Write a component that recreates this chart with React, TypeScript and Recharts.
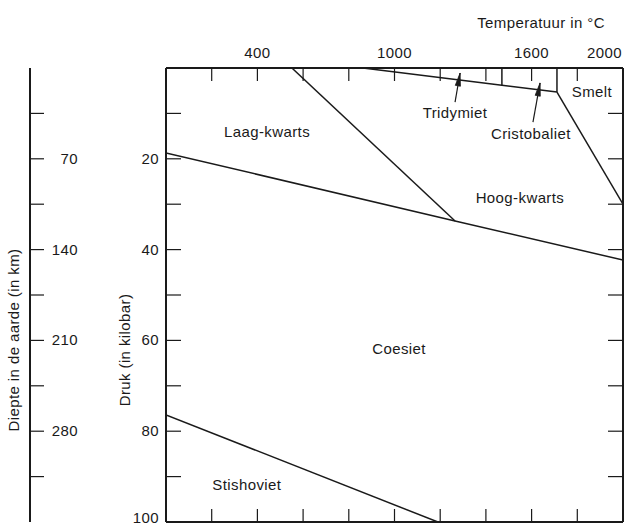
import React from 'react';
import { ComposedChart, Line, XAxis, YAxis, ReferenceDot } from 'recharts';

// temperatuur (°C) en druk (kbar) as
const temperatureTicks = [0, 200, 400, 600, 800, 1000, 1200, 1400, 1600, 1800, 2000];
const temperatureLabels = [400, 1000, 1600, 2000];
const pressureTicks = [0, 10, 20, 30, 40, 50, 60, 70, 80, 90, 100];
const pressureLabels = [20, 40, 60, 80, 100];
const depthTicks = [35, 70, 105, 140, 175, 210, 245, 280, 315];
const depthLabels = [70, 140, 210, 280];

// fasegrenzen
const laagHoogKwarts = [{ t: 551, p: 0 }, { t: 1265, p: 33.7 }];
const kwartsCoesiet = [{ t: 0, p: 18.7 }, { t: 1265, p: 33.7 }, { t: 2000, p: 42.3 }];
const hoogKwartsSmelt = [{ t: 1711, p: 5.3 }, { t: 2000, p: 30 }];
const tridymietGrens = [{ t: 862, p: 0 }, { t: 1470, p: 3.8 }, { t: 1711, p: 5.3 }];
const cristobalietSmelt = [{ t: 1711, p: 0 }, { t: 1711, p: 5.3 }];
const tridymietCristobaliet = [{ t: 1470, p: 0 }, { t: 1470, p: 3.8 }];
const coesietStishoviet = [{ t: 0, p: 76.4 }, { t: 1190, p: 100 }];

// pijlen naar de smalle velden
const tridymietPijl = [{ t: 1265, p: 7.5 }, { t: 1287, p: 1.1 }];
const cristobalietPijl = [{ t: 1606, p: 11.9 }, { t: 1637, p: 3.3 }];

const fasen = [
  { naam: 'Laag-kwarts', t: 442, p: 14.1 },
  { naam: 'Tridymiet', t: 1265, p: 9.9 },
  { naam: 'Cristobaliet', t: 1597, p: 14.5 },
  { naam: 'Smelt', t: 1864, p: 5.3 },
  { naam: 'Hoog-kwarts', t: 1549, p: 28.6 },
  { naam: 'Coesiet', t: 1020, p: 61.9 },
  { naam: 'Stishoviet', t: 354, p: 91.9 },
];

const FONT = '"Liberation Sans", Arial, Helvetica, sans-serif';
const INK = '#1a1a1a';

const textStyle = { fontFamily: FONT, fontSize: 15, letterSpacing: 0.4, fill: INK };

// y-as ids: 0 = druk (naast plot), 1 = diepte (buitenste), 2 = druk rechts
const DRUK = 0;
const DIEPTE = 1;
const RECHTS = 2;

const TopTick = (props: any) => {
  const { x, y, payload } = props;
  const v = payload.value;
  const show = temperatureLabels.includes(v);
  const atEdge = v === 2000;
  return (
    <g>
      <line x1={x} y1={y} x2={x} y2={y + 13} stroke={INK} strokeWidth={1.2} />
      {show && (
        <text x={atEdge ? x - 1 : x} y={y - 10} textAnchor={atEdge ? 'end' : 'middle'} {...textStyle}>
          {v}
        </text>
      )}
    </g>
  );
};

const BottomTick = (props: any) => {
  const { x, y } = props;
  return <line x1={x} y1={y} x2={x} y2={y - 13} stroke={INK} strokeWidth={1.2} />;
};

const LeftTick = (props: any) => {
  const { x, y, payload } = props;
  const v = payload.value;
  return (
    <g>
      <line x1={x} y1={y} x2={x + 15} y2={y} stroke={INK} strokeWidth={1.2} />
      {pressureLabels.includes(v) && (
        <text x={x - 7} y={v === 100 ? y + 1 : y + 5} textAnchor="end" {...textStyle}>
          {v}
        </text>
      )}
    </g>
  );
};

const RightTick = (props: any) => {
  const { x, y } = props;
  return <line x1={x} y1={y} x2={x - 15} y2={y} stroke={INK} strokeWidth={1.2} />;
};

const DepthTick = (props: any) => {
  const { x, y, payload } = props;
  const v = payload.value;
  return (
    <g>
      <line x1={x} y1={y} x2={x + 14} y2={y} stroke={INK} strokeWidth={1.2} />
      {depthLabels.includes(v) && (
        <text x={x + 48} y={y + 5} textAnchor="end" {...textStyle}>
          {v}
        </text>
      )}
    </g>
  );
};

const ArrowDot = (props: any) => {
  const { cx, cy, index, points } = props;
  if (index !== 1 || cx == null) return <g key={`a-${index}`} />;
  let dx = 0.17;
  let dy = -1;
  if (points && points.length > 1) {
    dx = points[1].x - points[0].x;
    dy = points[1].y - points[0].y;
    const len = Math.hypot(dx, dy) || 1;
    dx /= len;
    dy /= len;
  }
  const L = 13;
  const W = 2.6;
  const bx = cx - dx * L;
  const by = cy - dy * L;
  const d = `M${cx},${cy} L${bx - dy * W},${by + dx * W} L${bx + dy * W},${by - dx * W} Z`;
  return <path key={`a-${index}`} d={d} fill={INK} stroke={INK} strokeWidth={0.8} />;
};

const boundaries = [
  laagHoogKwarts,
  kwartsCoesiet,
  hoogKwartsSmelt,
  tridymietGrens,
  cristobalietSmelt,
  tridymietCristobaliet,
  coesietStishoviet,
];

export default function App() {
  return (
    <div style={{ position: 'absolute', left: 0, top: 0, background: '#fff' }}>
      <ComposedChart width={624} height={526} margin={{ top: 0, right: 0, bottom: 0, left: 0 }}>
        <XAxis
          xAxisId="t"
          type="number"
          dataKey="t"
          orientation="top"
          domain={[0, 2000]}
          ticks={temperatureTicks}
          allowDataOverflow
          height={68}
          tickSize={0}
          tickMargin={0}
          tickLine={false}
          axisLine={{ stroke: INK, strokeWidth: 2 }}
          tick={<TopTick />}
          interval={0}
          label={(p: any) => {
            const vb = p.viewBox;
            return (
              <text x={vb.x + vb.width - 18} y={28} textAnchor="end" {...textStyle}>
                Temperatuur in °C
              </text>
            );
          }}
        />
        <XAxis
          xAxisId="b"
          type="number"
          dataKey="t"
          orientation="bottom"
          domain={[0, 2000]}
          ticks={temperatureTicks}
          allowDataOverflow
          height={4}
          tickSize={0}
          tickMargin={0}
          tickLine={false}
          axisLine={{ stroke: INK, strokeWidth: 2 }}
          tick={<BottomTick />}
          interval={0}
        />
        <YAxis
          yAxisId={DRUK}
          type="number"
          orientation="left"
          domain={[0, 100]}
          reversed
          ticks={pressureTicks}
          allowDataOverflow
          width={136}
          tickSize={0}
          tickMargin={0}
          tickLine={false}
          axisLine={{ stroke: INK, strokeWidth: 2 }}
          tick={<LeftTick />}
          interval={0}
          label={(p: any) => {
            const vb = p.viewBox;
            const cx = vb.x + vb.width - 41;
            const cy = vb.y + vb.height / 2 + 55;
            return (
              <text x={cx} y={cy} textAnchor="middle" transform={`rotate(-90 ${cx} ${cy})`} dy={5} {...textStyle}>
                Druk (in kilobar)
              </text>
            );
          }}
        />
        <YAxis
          yAxisId={DIEPTE}
          type="number"
          orientation="left"
          domain={[0, 350]}
          reversed
          ticks={depthTicks}
          allowDataOverflow
          width={30}
          tickSize={0}
          tickMargin={0}
          tickLine={false}
          axisLine={{ stroke: INK, strokeWidth: 2 }}
          tick={<DepthTick />}
          interval={0}
          label={(p: any) => {
            const vb = p.viewBox;
            const cx = vb.x + 14;
            const cy = vb.y + vb.height / 2 + 45;
            return (
              <text x={cx} y={cy} textAnchor="middle" transform={`rotate(-90 ${cx} ${cy})`} dy={5} {...textStyle}>
                Diepte in de aarde (in km)
              </text>
            );
          }}
        />
        <YAxis
          yAxisId={RECHTS}
          type="number"
          orientation="right"
          domain={[0, 100]}
          reversed
          ticks={pressureTicks}
          allowDataOverflow
          width={1}
          tickSize={0}
          tickMargin={0}
          tickLine={false}
          axisLine={{ stroke: INK, strokeWidth: 2 }}
          tick={<RightTick />}
          interval={0}
        />

        {boundaries.map((data, i) => (
          <Line
            key={`grens-${i}`}
            xAxisId="t"
            yAxisId={DRUK}
            data={data}
            dataKey="p"
            type="linear"
            stroke={INK}
            strokeWidth={1.5}
            dot={false}
            activeDot={false}
            isAnimationActive={false}
          />
        ))}

        {[tridymietPijl, cristobalietPijl].map((data, i) => (
          <Line
            key={`pijl-${i}`}
            xAxisId="t"
            yAxisId={DRUK}
            data={data}
            dataKey="p"
            type="linear"
            stroke={INK}
            strokeWidth={1.2}
            dot={<ArrowDot />}
            activeDot={false}
            isAnimationActive={false}
          />
        ))}

        {fasen.map((f) => (
          <ReferenceDot
            key={f.naam}
            xAxisId="t"
            yAxisId={DRUK}
            x={f.t}
            y={f.p}
            r={0}
            shape={(p: any) => (
              <text x={p.cx} y={p.cy + 5} textAnchor="middle" {...textStyle}>
                {f.naam}
              </text>
            )}
          />
        ))}
      </ComposedChart>
    </div>
  );
}
